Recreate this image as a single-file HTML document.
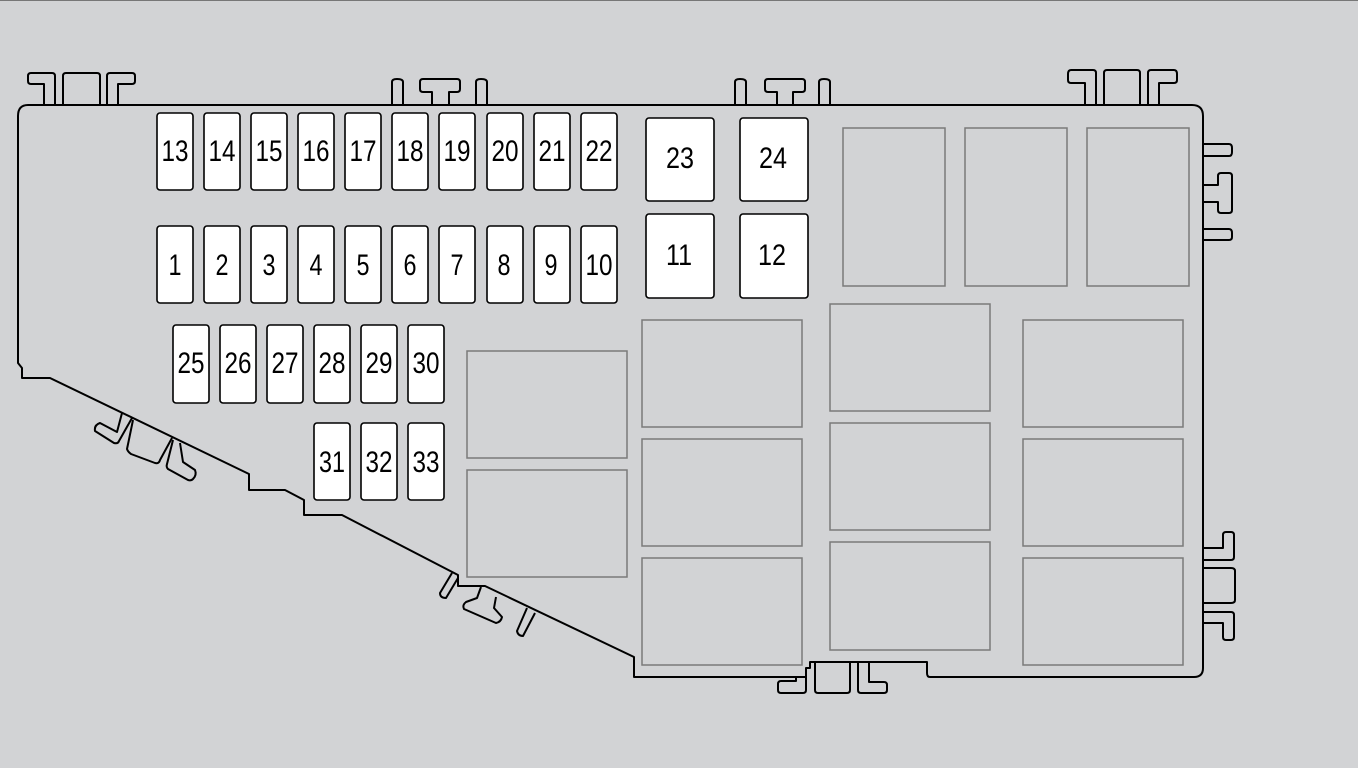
<!DOCTYPE html>
<html><head><meta charset="utf-8"><style>
html,body{margin:0;padding:0;background:#d2d3d5;}
svg{display:block}
text{font-family:"Liberation Sans",sans-serif;font-size:30px;fill:#000;text-anchor:middle}
</style></head><body>
<svg width="1358" height="768" viewBox="0 0 1358 768">
<rect x="0" y="0" width="1358" height="768" fill="#d2d3d5"/>
<line x1="0" y1="0.5" x2="1358" y2="0.5" stroke="#777" stroke-width="1"/>
<g fill="none" stroke="#000" stroke-width="2" stroke-linejoin="round">
<path d="M28,105 L1192,105 Q1203,105 1203,116 L1203,668 Q1203,677 1194,677 L930,677 Q927,677 927,673 L927,662 L810,662 L810,668 L806,668 L806,677 L634,677 L634,657 L485,586 L458,586 L458,575 L342,515 L304,515 L304,500 L285,490 L249,490 L249,474 L50,378 L22,378 L22,368 L18,363 L18,116 Q18,105 28,105 Z"/>
<path d="M44,105 L44,84 L31,84 Q28,84 28,81 L28,76 Q28,73 31,73 L52,73 Q55,73 55,76 L55,105"/>
<path d="M63,105 L63,76 Q63,73 66,73 L97,73 Q100,73 100,76 L100,105"/>
<path d="M107,105 L107,76 Q107,73 110,73 L132,73 Q135,73 135,76 L135,81 Q135,84 132,84 L118,84 L118,105"/>
<path d="M1085,105 L1085,83 L1071,83 Q1068,83 1068,80 L1068,74 Q1068,70 1071,70 L1093,70 Q1096,70 1096,73 L1096,105"/>
<path d="M1104,105 L1104,73 Q1104,70 1107,70 L1137,70 Q1140,70 1140,73 L1140,105"/>
<path d="M1148,105 L1148,73 Q1148,70 1151,70 L1174,70 Q1177,70 1177,74 L1177,80 Q1177,83 1174,83 L1159,83 L1159,105"/>
<path d="M392,105 L392,82 Q392,79 397,79 Q403,79 403,82 L403,105"/>
<path d="M432,105 L432,92 L423,92 Q420,92 420,89 L420,82 Q420,79 423,79 L457,79 Q460,79 460,82 L460,89 Q460,92 457,92 L449,92 L449,105"/>
<path d="M476,105 L476,82 Q476,79 481,79 Q487,79 487,82 L487,105"/>
<path d="M735,105 L735,82 Q735,79 740,79 Q746,79 746,82 L746,105"/>
<path d="M777,105 L777,92 L768,92 Q765,92 765,89 L765,82 Q765,79 768,79 L802,79 Q805,79 805,82 L805,89 Q805,92 802,92 L793,92 L793,105"/>
<path d="M819,105 L819,82 Q819,79 824,79 Q830,79 830,82 L830,105"/>
<path d="M1203,144 L1229,144 Q1232,144 1232,148 L1232,152 Q1232,156 1229,156 L1203,156"/>
<path d="M1203,185 L1218,185 L1218,176 Q1218,173 1221,173 L1229,173 Q1232,173 1232,176 L1232,210 Q1232,213 1229,213 L1221,213 Q1218,213 1218,210 L1218,202 L1203,202"/>
<path d="M1203,229 L1229,229 Q1232,229 1232,233 L1232,237 Q1232,240 1229,240 L1203,240"/>
<path d="M1203,548 L1223,548 L1223,535 Q1223,532 1226,532 L1231,532 Q1234,532 1234,535 L1234,557 Q1234,560 1231,560 L1203,560"/>
<path d="M1203,568 L1231,568 Q1235,568 1235,571 L1235,600 Q1235,603 1231,603 L1203,603"/>
<path d="M1203,612 L1231,612 Q1234,612 1234,615 L1234,637 Q1234,640 1231,640 L1226,640 Q1223,640 1223,637 L1223,623 L1203,623"/>
<path d="M806,677 L806,690 Q806,693 803,693 L781,693 Q778,693 778,690 L778,684 Q778,681 781,681 L796,681 L796,677"/>
<path d="M815,662 L815,690 Q815,693 818,693 L847,693 Q850,693 850,690 L850,662"/>
<path d="M858,662 L858,690 Q858,693 861,693 L884,693 Q887,693 887,690 L887,685 Q887,682 884,682 L869,682 L869,662"/>
<path d="M122,413 L117,432 L100,423 Q94,425 95,431 L114,443 Q118,444 119,441 L132,418"/>
<path d="M133,420 L127,449 Q128,452 131,454 L155,463 Q159,464 160,460 L172,438"/>
<path d="M180,443 L183,462 L195,470 Q197,475 193,479 Q191,481 188,480 L168,469 Q166,467 167,464 L173,440"/>
<path d="M452,573 L440,593 Q440,598 446,598 L458,578"/>
<path d="M481,587 L477,598 L466,602 Q462,605 464,609 L496,623 Q501,622 502,617 L494,608 L496,597"/>
<path d="M527,608 L517,631 Q518,636 523,636 L535,613"/>
</g>
<g fill="none" stroke="#7a7a7a" stroke-width="1.5">
<rect x="843" y="128" width="102" height="158"/>
<rect x="965" y="128" width="102" height="158"/>
<rect x="1087" y="128" width="102" height="158"/>
<rect x="467" y="351" width="160" height="107"/>
<rect x="467" y="470" width="160" height="107"/>
<rect x="642" y="320" width="160" height="107"/>
<rect x="642" y="439" width="160" height="107"/>
<rect x="642" y="558" width="160" height="107"/>
<rect x="830" y="304" width="160" height="107"/>
<rect x="830" y="423" width="160" height="107"/>
<rect x="830" y="542" width="160" height="108"/>
<rect x="1023" y="320" width="160" height="107"/>
<rect x="1023" y="439" width="160" height="107"/>
<rect x="1023" y="558" width="160" height="107"/>
</g>
<g fill="#fff" stroke="#000" stroke-width="1.6">
<rect x="157" y="113" width="36" height="77" rx="3"/><rect x="204" y="113" width="36" height="77" rx="3"/><rect x="251" y="113" width="36" height="77" rx="3"/><rect x="298" y="113" width="36" height="77" rx="3"/><rect x="345" y="113" width="36" height="77" rx="3"/><rect x="392" y="113" width="36" height="77" rx="3"/><rect x="439" y="113" width="36" height="77" rx="3"/><rect x="487" y="113" width="36" height="77" rx="3"/><rect x="534" y="113" width="36" height="77" rx="3"/><rect x="581" y="113" width="36" height="77" rx="3"/>
<rect x="157" y="226" width="36" height="77" rx="3"/><rect x="204" y="226" width="36" height="77" rx="3"/><rect x="251" y="226" width="36" height="77" rx="3"/><rect x="298" y="226" width="36" height="77" rx="3"/><rect x="345" y="226" width="36" height="77" rx="3"/><rect x="392" y="226" width="36" height="77" rx="3"/><rect x="439" y="226" width="36" height="77" rx="3"/><rect x="487" y="226" width="36" height="77" rx="3"/><rect x="534" y="226" width="36" height="77" rx="3"/><rect x="581" y="226" width="36" height="77" rx="3"/>
<rect x="646" y="118" width="68" height="83" rx="3"/><rect x="740" y="118" width="68" height="83" rx="3"/>
<rect x="646" y="214" width="68" height="84" rx="3"/><rect x="740" y="214" width="68" height="84" rx="3"/>
<rect x="173" y="325" width="36" height="78" rx="3"/><rect x="220" y="325" width="36" height="78" rx="3"/><rect x="267" y="325" width="36" height="78" rx="3"/><rect x="314" y="325" width="36" height="78" rx="3"/><rect x="361" y="325" width="36" height="78" rx="3"/><rect x="408" y="325" width="36" height="78" rx="3"/>
<rect x="314" y="423" width="36" height="77" rx="3"/><rect x="361" y="423" width="36" height="77" rx="3"/><rect x="408" y="423" width="36" height="77" rx="3"/>
</g>
<g lengthAdjust="spacingAndGlyphs">
<text x="175" y="161" textLength="27" lengthAdjust="spacingAndGlyphs">13</text><text x="222" y="161" textLength="27" lengthAdjust="spacingAndGlyphs">14</text><text x="269" y="161" textLength="27" lengthAdjust="spacingAndGlyphs">15</text><text x="316" y="161" textLength="27" lengthAdjust="spacingAndGlyphs">16</text><text x="363" y="161" textLength="27" lengthAdjust="spacingAndGlyphs">17</text><text x="410" y="161" textLength="27" lengthAdjust="spacingAndGlyphs">18</text><text x="457" y="161" textLength="27" lengthAdjust="spacingAndGlyphs">19</text><text x="505" y="161" textLength="27" lengthAdjust="spacingAndGlyphs">20</text><text x="552" y="161" textLength="27" lengthAdjust="spacingAndGlyphs">21</text><text x="599" y="161" textLength="27" lengthAdjust="spacingAndGlyphs">22</text>
<text x="175" y="275" textLength="13" lengthAdjust="spacingAndGlyphs">1</text><text x="222" y="275" textLength="13" lengthAdjust="spacingAndGlyphs">2</text><text x="269" y="275" textLength="13" lengthAdjust="spacingAndGlyphs">3</text><text x="316" y="275" textLength="13" lengthAdjust="spacingAndGlyphs">4</text><text x="363" y="275" textLength="13" lengthAdjust="spacingAndGlyphs">5</text><text x="410" y="275" textLength="13" lengthAdjust="spacingAndGlyphs">6</text><text x="457" y="275" textLength="13" lengthAdjust="spacingAndGlyphs">7</text><text x="504" y="275" textLength="13" lengthAdjust="spacingAndGlyphs">8</text><text x="551" y="275" textLength="13" lengthAdjust="spacingAndGlyphs">9</text><text x="599" y="275" textLength="27" lengthAdjust="spacingAndGlyphs">10</text>
<text x="680" y="168" textLength="28" lengthAdjust="spacingAndGlyphs">23</text><text x="773" y="168" textLength="28" lengthAdjust="spacingAndGlyphs">24</text>
<text x="679" y="265" textLength="26" lengthAdjust="spacingAndGlyphs">11</text><text x="772" y="265" textLength="28" lengthAdjust="spacingAndGlyphs">12</text>
<text x="191" y="373" textLength="27" lengthAdjust="spacingAndGlyphs">25</text><text x="238" y="373" textLength="27" lengthAdjust="spacingAndGlyphs">26</text><text x="285" y="373" textLength="27" lengthAdjust="spacingAndGlyphs">27</text><text x="332" y="373" textLength="27" lengthAdjust="spacingAndGlyphs">28</text><text x="379" y="373" textLength="27" lengthAdjust="spacingAndGlyphs">29</text><text x="426" y="373" textLength="27" lengthAdjust="spacingAndGlyphs">30</text>
<text x="332" y="472" textLength="26" lengthAdjust="spacingAndGlyphs">31</text><text x="379" y="472" textLength="27" lengthAdjust="spacingAndGlyphs">32</text><text x="426" y="472" textLength="27" lengthAdjust="spacingAndGlyphs">33</text>
</g>
</svg>
</body></html>
